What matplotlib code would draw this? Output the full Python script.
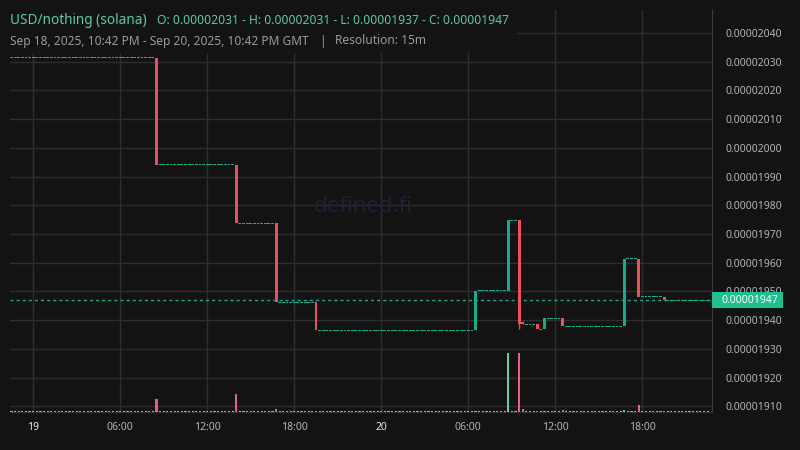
import numpy as np
import pandas as pd
import matplotlib
matplotlib.use("Agg")
import matplotlib.pyplot as plt
import matplotlib.dates as mdates
from matplotlib.patches import Rectangle

plt.rcParams['font.family'] = ['Noto Sans', 'DejaVu Sans']

# ---------------- data ----------------
title = "USD/nothing (solana)"
ohlc_text = "O: 0.00002031 - H: 0.00002031 - L: 0.00001937 - C: 0.00001947"
range_text = "Sep 18, 2025, 10:42 PM - Sep 20, 2025, 10:42 PM GMT"
resolution_text = "Resolution: 15m"
watermark = "defined.fi"

candle_start = "2025-09-18 22:30"
candle_end = "2025-09-20 22:30"
start_price = 0.000020313
base_volume = 20.0

# candles where the price moved (all other 15m candles are flat)
event_times = ["2025-09-19 08:30", "2025-09-19 14:00", "2025-09-19 16:45", "2025-09-19 19:30",
               "2025-09-20 06:30", "2025-09-20 08:45", "2025-09-20 09:30", "2025-09-20 09:45",
               "2025-09-20 10:45", "2025-09-20 11:15", "2025-09-20 12:30", "2025-09-20 16:45",
               "2025-09-20 17:45", "2025-09-20 19:30"]
event_open = [0.000020313, 0.000019941, 0.000019737, 0.000019463,
              0.000019365, 0.000019503, 0.000019748, 0.000019392,
              0.000019385, 0.000019369, 0.000019406, 0.000019378,
              0.000019614, 0.000019481]
event_high = [0.000020313, 0.000019941, 0.000019737, 0.000019463,
              0.000019503, 0.000019748, 0.000019748, 0.000019397,
              0.000019385, 0.000019406, 0.000019406, 0.000019614,
              0.000019614, 0.000019481]
event_low = [0.000019941, 0.000019737, 0.000019463, 0.000019365,
             0.000019365, 0.000019503, 0.000019369, 0.000019385,
             0.000019369, 0.000019369, 0.000019378, 0.000019378,
             0.000019481, 0.000019469]
event_close = [0.000019941, 0.000019737, 0.000019463, 0.000019365,
               0.000019503, 0.000019748, 0.000019386, 0.000019385,
               0.000019369, 0.000019406, 0.000019378, 0.000019614,
               0.000019481, 0.000019469]
event_volume = [260.0, 360.0, 60.0, 30.0,
                20.0, 1180.0, 1180.0, 60.0,
                20.0, 20.0, 50.0, 50.0,
                150.0, 20.0]

last_price = 0.00001947
last_label = "0.00001947"

ytick_values = [0.00001910, 0.00001920, 0.00001930, 0.00001940, 0.00001950, 0.00001960,
                0.00001970, 0.00001980, 0.00001990, 0.00002000, 0.00002010, 0.00002020,
                0.00002030, 0.00002040]
xtick_times = ["2025-09-19 00:00", "2025-09-19 06:00", "2025-09-19 12:00", "2025-09-19 18:00",
               "2025-09-20 00:00", "2025-09-20 06:00", "2025-09-20 12:00", "2025-09-20 18:00"]
xtick_labels = ["19", "06:00", "12:00", "18:00", "20", "06:00", "12:00", "18:00"]
xtick_bold = [True, False, False, False, True, False, False, False]

# ---------------- build candles ----------------
times = pd.date_range(candle_start, candle_end, freq="15min")
events = {pd.Timestamp(t): i for i, t in enumerate(event_times)}
O, H, L, C, V = [], [], [], [], []
p = start_price
for t in times:
    if t in events:
        i = events[t]
        O.append(event_open[i]); H.append(event_high[i]); L.append(event_low[i])
        C.append(event_close[i]); V.append(event_volume[i])
        p = event_close[i]
    else:
        O.append(p); H.append(p); L.append(p); C.append(p); V.append(base_volume)
O, H, L, C, V = map(np.array, (O, H, L, C, V))
x = mdates.date2num(times.to_pydatetime())

# ---------------- style ----------------
bg = "#131313"
grid_c = "#2e2e2e"
up_c = "#19a98b"
down_c = "#ef4f5c"
vol_up = "#5fcfb0"
vol_down = "#e4627c"
label_c = "#b4b4b4"
teal_text = "#5ccaa6"
tag_c = "#1fc08f"

W, Hh = 800, 450
fig = plt.figure(figsize=(8, 4.5), dpi=100, facecolor=bg)
rect = [10 / W, 38 / Hh, 702 / W, 402 / Hh]
ax = fig.add_axes(rect)
ax.set_facecolor(bg)

ax.set_xlim(mdates.date2num(pd.Timestamp("2025-09-18 22:24")),
            mdates.date2num(pd.Timestamp("2025-09-20 22:48")))
ax.set_ylim(0.00001908, 0.00002048)

ax.set_axisbelow(True)
ax.grid(True, color=grid_c, lw=1)
for s in ["left", "top"]:
    ax.spines[s].set_visible(False)
ax.spines["right"].set_color("#3c3c3c")
ax.spines["bottom"].set_color("#303030")

ax.yaxis.tick_right()
ax.set_yticks(ytick_values)
ax.set_yticklabels([f"{v:.8f}" for v in ytick_values])
ax.tick_params(axis="y", length=0, pad=9.5, labelsize=7.5, labelcolor=label_c)

xt = [mdates.date2num(pd.Timestamp(t)) for t in xtick_times]
ax.set_xticks(xt)
ax.set_xticklabels(xtick_labels)
ax.tick_params(axis="x", length=0, pad=7, labelsize=7.5, labelcolor=label_c)
for lab, b in zip(ax.get_xticklabels(), xtick_bold):
    if b:
        lab.set_fontweight("bold")
        lab.set_color("#e8e8e8")

# watermark
ax.text(0.503, 0.51, watermark, transform=ax.transAxes, ha="center", va="center",
        fontsize=16, color="#221f38", zorder=1)

# pixel size in data units
fig.canvas.draw()
y0 = ax.transData.transform((x[0], 0.0000195))[1]
y1 = ax.transData.transform((x[0], 0.0000196))[1]
px = 0.0000001 / (y1 - y0)

cw = (1 / 96) * 0.8
up = C >= O
colors = np.where(up, up_c, down_c)

# wicks
wick = (H > np.maximum(O, C)) | (L < np.minimum(O, C))
ax.vlines(x[wick], L[wick], H[wick], colors=colors[wick], lw=1, zorder=3)

# bodies
lo = np.minimum(O, C)
hgt = np.abs(C - O)
flat = hgt < px
bottom = np.where(flat, O - px / 2, lo)
height = np.where(flat, px, hgt)
ax.bar(x, height, bottom=bottom, width=cw, color=colors, lw=0, zorder=3)

# last price line
ax.axhline(last_price, color="#1fa88e", lw=1, ls=(0, (2.2, 2.2)), zorder=2)

# volume overlay
vax = fig.add_axes(rect, sharex=ax)
vax.set_zorder(ax.get_zorder() + 1)
vax.patch.set_visible(False)
vax.axis("off")
vax.set_ylim(0, V.max() * 6.85)
vcolors = np.where(up, vol_up, vol_down)
vax.bar(x, V, width=(1 / 96) * 0.6, color=vcolors, lw=0)

# header box covering gridlines
ax.add_patch(Rectangle((0, 1 - 53 / Hh), 517 / W, 53 / Hh, transform=fig.transFigure,
                       facecolor=bg, edgecolor="none", zorder=6, clip_on=False))

fig.text(10 / W, 1 - 20 / Hh, title, fontsize=9.8, color=teal_text, va="center", ha="left")
fig.text(157 / W, 1 - 20 / Hh, ohlc_text, fontsize=8.7, color=teal_text, va="center", ha="left")
fig.text(10 / W, 1 - 41 / Hh, range_text, fontsize=8.6, color="#9a9a9a", va="center", ha="left")
fig.text(322 / W, 1 - 41 / Hh, "|", fontsize=8.6, color="#9a9a9a", va="center", ha="center")
fig.text(335 / W, 1 - 41 / Hh, resolution_text, fontsize=8.6, color="#9a9a9a", va="center", ha="left")

# price tag
yp = ax.transData.transform((x[0], last_price))[1]
fig.patches.append(Rectangle((712 / W, (yp - 8) / Hh), 71 / W, 16 / Hh, transform=fig.transFigure,
                             facecolor=tag_c, edgecolor="none", zorder=5))
fig.text(722 / W, yp / Hh, last_label, fontsize=7.5, color="white", va="center", ha="left", zorder=6)

fig.savefig("out.png", dpi=100, facecolor=bg)
